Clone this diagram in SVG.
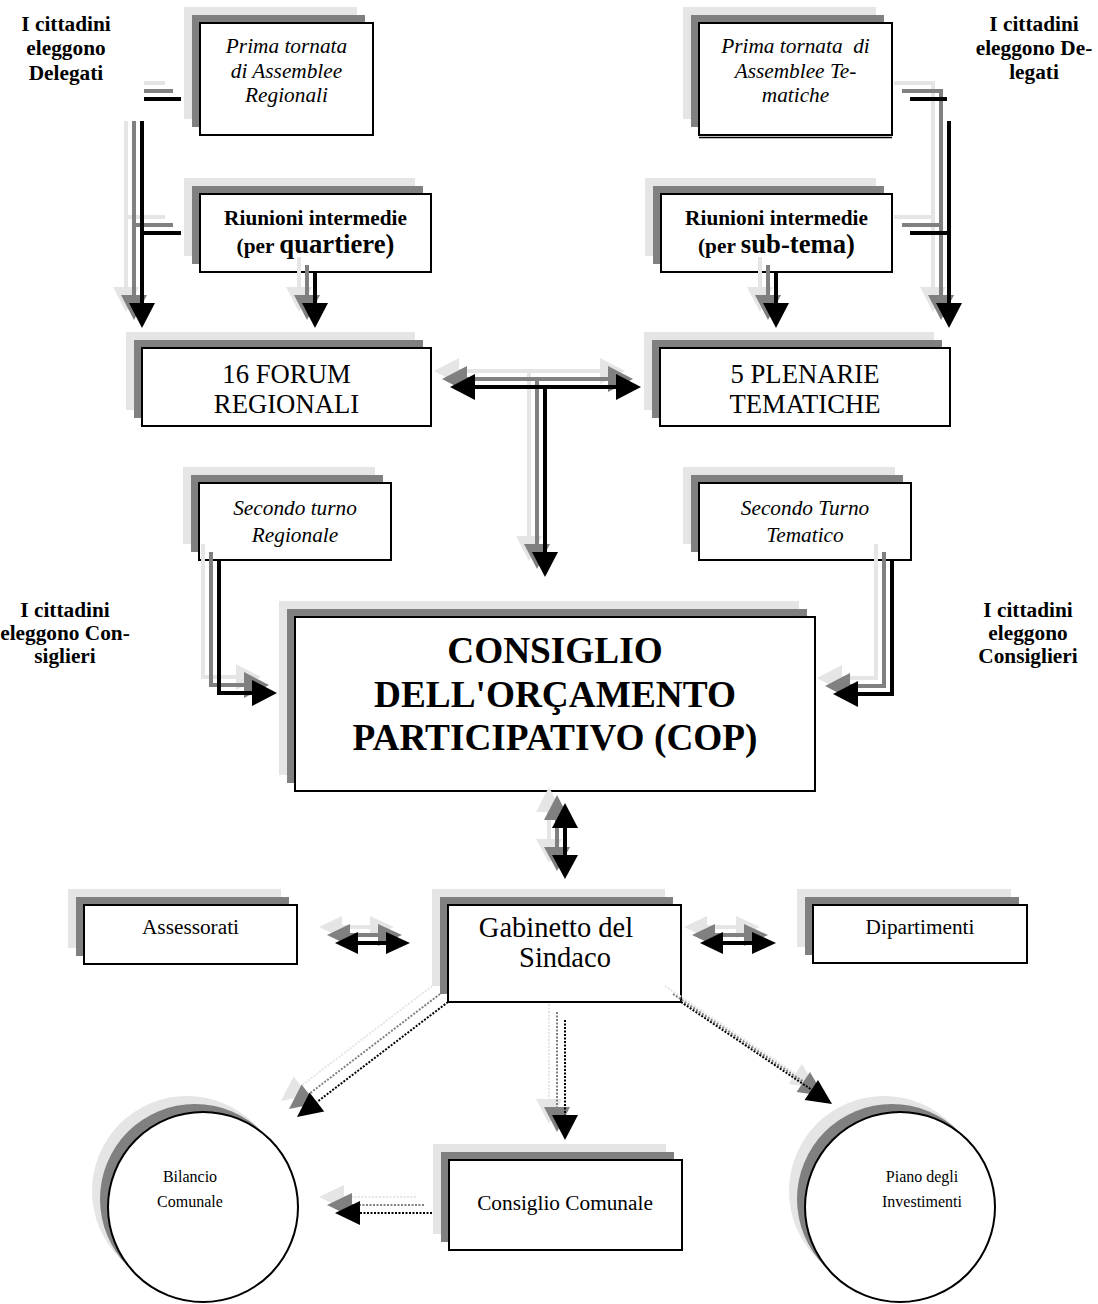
<svg xmlns="http://www.w3.org/2000/svg" xmlns:xlink="http://www.w3.org/1999/xlink" width="1098" height="1304" viewBox="0 0 1098 1304">
<style>
  .l{fill:#e5e5e5}
  .d{fill:#808080}
  .m{fill:#fff;stroke:#000;stroke-width:2}
  text{font-family:"Liberation Serif","Times New Roman",serif;fill:#000;text-anchor:middle}
  .b{font-weight:bold}
  .i{font-style:italic}
  .s21{font-size:21.3px}
  .s27{font-size:26.7px}
  .s16{font-size:16px}
  .cL{stroke:#e5e5e5;fill:#e5e5e5}
  .cD{stroke:#808080;fill:#808080}
  .cK{stroke:#000;fill:#000}
  .ln{fill:none;stroke-width:4}
  .dt{fill:none;stroke-width:2;stroke-dasharray:2 1.5}
  .hd{stroke:none}
</style>
<defs>
  <g id="a1"><path class="ln" d="M181,99 H142 V305 M181,233 H142"/><polygon class="hd" points="129,303 155,303 142,328"/></g>
  <g id="a2"><path class="ln" d="M315,273 V305"/><polygon class="hd" points="302,303 328,303 315,328"/></g>
  <g id="a3"><path class="ln" d="M910,99 H949 V305 M910,233 H949"/><polygon class="hd" points="936,303 962,303 949,328"/></g>
  <g id="a4"><path class="ln" d="M776,273 V305"/><polygon class="hd" points="763,303 789,303 776,328"/></g>
  <g id="a5"><path class="ln" d="M470,387 H620 M545,387 V555"/><polygon class="hd" points="450,387 475,374 475,400"/><polygon class="hd" points="641,387 616,374 616,400"/><polygon class="hd" points="532,552 558,552 545,577"/></g>
  <g id="a6"><path class="ln" d="M219,560 V693 H254"/><polygon class="hd" points="277,693 252,680 252,706"/></g>
  <g id="a7"><path class="ln" d="M892,560 V694 H858"/><polygon class="hd" points="833,694 858,681 858,707"/></g>
  <g id="a8"><path class="ln" d="M565,826 V857"/><polygon class="hd" points="565,803 552,828 578,828"/><polygon class="hd" points="565,879 552,855 578,855"/></g>
  <g id="a9"><path class="ln" d="M352,943 H390"/><polygon class="hd" points="335,943 358,932 358,954"/><polygon class="hd" points="410,943 386,932 386,954"/></g>
  <g id="a10"><path class="ln" d="M717,943 H760"/><polygon class="hd" points="700,943 723,932 723,954"/><polygon class="hd" points="776,943 752,932 752,954"/></g>
  <g id="d1"><path class="dt" d="M448,1002 L317,1102"/><polygon class="hd" points="297,1117 324.2,1111.4 309.6,1092.4"/></g>
  <g id="d2"><path class="dt" d="M565,1020 V1117"/><polygon class="hd" points="552,1115 578,1115 565,1140"/></g>
  <g id="d3"><path class="dt" d="M681,1002 L812,1090"/><polygon class="hd" points="832,1104 804.6,1099.9 818,1080.1"/></g>
  <g id="d4"><path class="dt" d="M432,1213 H358"/><polygon class="hd" points="335,1213 360,1201 360,1225"/></g>
</defs>

<g id="n-prima-regionali">
  <rect class="l" x="184" y="7" width="173" height="112"/>
  <rect class="d" x="192" y="15" width="173" height="112"/>
  <rect class="m" x="200" y="23" width="173" height="112"/>
  <text class="i s21" x="286.5" y="53">Prima tornata</text>
  <text class="i s21" x="286.5" y="78">di Assemblee</text>
  <text class="i s21" x="286.5" y="102">Regionali</text>
</g>
<g id="n-riunioni-quartiere">
  <rect class="l" x="184" y="178" width="231" height="78"/>
  <rect class="d" x="192" y="186" width="231" height="78"/>
  <rect class="m" x="200" y="194" width="231" height="78"/>
  <text class="b s21" x="315.5" y="225">Riunioni intermedie</text>
  <text class="b s21" x="315.5" y="253">(per <tspan class="s27">quartiere)</tspan></text>
</g>
<g id="n-prima-tematiche">
  <rect class="l" x="683" y="7" width="193" height="112"/>
  <rect class="d" x="691" y="15" width="193" height="112"/>
  <rect class="m" x="699" y="23" width="193" height="112"/>
  <line x1="699" y1="137.5" x2="892" y2="137.5" stroke="#000" stroke-width="1.5"/>
  <text class="i s21" x="795.5" y="53" xml:space="preserve">Prima tornata  di</text>
  <text class="i s21" x="795.5" y="78">Assemblee Te-</text>
  <text class="i s21" x="795.5" y="102">matiche</text>
</g>
<g id="n-riunioni-subtema">
  <rect class="l" x="645" y="178" width="231" height="78"/>
  <rect class="d" x="653" y="186" width="231" height="78"/>
  <rect class="m" x="661" y="194" width="231" height="78"/>
  <text class="b s21" x="776.5" y="225">Riunioni intermedie</text>
  <text class="b s21" x="776.5" y="253">(per <tspan class="s27">sub-tema)</tspan></text>
</g>
<g id="n-forum">
  <rect class="l" x="126" y="332" width="289" height="78"/>
  <rect class="d" x="134" y="340" width="289" height="78"/>
  <rect class="m" x="142" y="348" width="289" height="78"/>
  <text class="s27" x="286.5" y="383">16 FORUM</text>
  <text class="s27" x="286.5" y="413">REGIONALI</text>
</g>
<g id="n-plenarie">
  <rect class="l" x="644" y="332" width="290" height="78"/>
  <rect class="d" x="652" y="340" width="290" height="78"/>
  <rect class="m" x="660" y="348" width="290" height="78"/>
  <text class="s27" x="805" y="383">5 PLENARIE</text>
  <text class="s27" x="805" y="413">TEMATICHE</text>
</g>
<g id="n-secondo-regionale">
  <rect class="l" x="183" y="467" width="192" height="77"/>
  <rect class="d" x="191" y="475" width="192" height="77"/>
  <rect class="m" x="199" y="483" width="192" height="77"/>
  <text class="i s21" x="295" y="515">Secondo turno</text>
  <text class="i s21" x="295" y="542">Regionale</text>
</g>
<g id="n-secondo-tematico">
  <rect class="l" x="683" y="467" width="212" height="77"/>
  <rect class="d" x="691" y="475" width="212" height="77"/>
  <rect class="m" x="699" y="483" width="212" height="77"/>
  <text class="i s21" x="805" y="515">Secondo Turno</text>
  <text class="i s21" x="805" y="542">Tematico</text>
</g>
<g id="n-cop">
  <rect class="l" x="279" y="601" width="520" height="174"/>
  <rect class="d" x="287" y="609" width="520" height="174"/>
  <rect class="m" x="295" y="617" width="520" height="174"/>
  <text class="b" font-size="37.3" x="555" y="663">CONSIGLIO</text>
  <text class="b" font-size="37.3" x="555" y="707">DELL'ORÇAMENTO</text>
  <text class="b" font-size="37.3" x="555" y="750">PARTICIPATIVO (COP)</text>
</g>
<g id="n-assessorati">
  <rect class="l" x="68" y="889" width="213" height="59"/>
  <rect class="d" x="76" y="897" width="213" height="59"/>
  <rect class="m" x="84" y="905" width="213" height="59"/>
  <text class="s21" x="190.5" y="934">Assessorati</text>
</g>
<g id="n-gabinetto">
  <rect class="l" x="432" y="889" width="233" height="97"/>
  <rect class="d" x="440" y="897" width="233" height="97"/>
  <rect class="m" x="448" y="905" width="233" height="97"/>
  <text font-size="28.5" x="556" y="937">Gabinetto del</text>
  <text font-size="28.5" x="565" y="967">Sindaco</text>
</g>
<g id="n-dipartimenti">
  <rect class="l" x="797" y="889" width="214" height="58"/>
  <rect class="d" x="805" y="897" width="214" height="58"/>
  <rect class="m" x="813" y="905" width="214" height="58"/>
  <text class="s21" x="920" y="934">Dipartimenti</text>
</g>
<g id="n-consiglio-comunale">
  <rect class="l" x="433" y="1144" width="233" height="90"/>
  <rect class="d" x="441" y="1152" width="233" height="90"/>
  <rect class="m" x="449" y="1160" width="233" height="90"/>
  <text class="s21" x="565" y="1210">Consiglio Comunale</text>
</g>
<g id="n-bilancio">
  <circle class="l" cx="187" cy="1191" r="95"/>
  <circle class="d" cx="195" cy="1199" r="95"/>
  <circle class="m" cx="203" cy="1207" r="95"/>
  <text class="s16" x="190" y="1182">Bilancio</text>
  <text class="s16" x="190" y="1207">Comunale</text>
</g>
<g id="n-piano">
  <circle class="l" cx="884" cy="1191" r="95"/>
  <circle class="d" cx="892" cy="1199" r="95"/>
  <circle class="m" cx="900" cy="1207" r="95"/>
  <text class="s16" x="922" y="1182">Piano degli</text>
  <text class="s16" x="922" y="1207">Investimenti</text>
</g>

<g id="connectors">
  <use xlink:href="#a1" class="cL" transform="translate(-16,-16)"/><use xlink:href="#a1" class="cD" transform="translate(-8,-8)"/><use xlink:href="#a1" class="cK"/>
  <use xlink:href="#a2" class="cL" transform="translate(-16,-16)"/><use xlink:href="#a2" class="cD" transform="translate(-8,-8)"/><use xlink:href="#a2" class="cK"/>
  <use xlink:href="#a3" class="cL" transform="translate(-16,-16)"/><use xlink:href="#a3" class="cD" transform="translate(-8,-8)"/><use xlink:href="#a3" class="cK"/>
  <use xlink:href="#a4" class="cL" transform="translate(-16,-16)"/><use xlink:href="#a4" class="cD" transform="translate(-8,-8)"/><use xlink:href="#a4" class="cK"/>
  <use xlink:href="#a5" class="cL" transform="translate(-16,-16)"/><use xlink:href="#a5" class="cD" transform="translate(-8,-8)"/><use xlink:href="#a5" class="cK"/>
  <use xlink:href="#a6" class="cL" transform="translate(-16,-16)"/><use xlink:href="#a6" class="cD" transform="translate(-8,-8)"/><use xlink:href="#a6" class="cK"/>
  <use xlink:href="#a7" class="cL" transform="translate(-16,-16)"/><use xlink:href="#a7" class="cD" transform="translate(-8,-8)"/><use xlink:href="#a7" class="cK"/>
  <use xlink:href="#a8" class="cL" transform="translate(-16,-16)"/><use xlink:href="#a8" class="cD" transform="translate(-8,-8)"/><use xlink:href="#a8" class="cK"/>
  <use xlink:href="#a9" class="cL" transform="translate(-16,-16)"/><use xlink:href="#a9" class="cD" transform="translate(-8,-8)"/><use xlink:href="#a9" class="cK"/>
  <use xlink:href="#a10" class="cL" transform="translate(-16,-16)"/><use xlink:href="#a10" class="cD" transform="translate(-8,-8)"/><use xlink:href="#a10" class="cK"/>
  <use xlink:href="#d1" class="cL" transform="translate(-16,-16)"/><use xlink:href="#d1" class="cD" transform="translate(-8,-8)"/><use xlink:href="#d1" class="cK"/>
  <use xlink:href="#d2" class="cL" transform="translate(-16,-16)"/><use xlink:href="#d2" class="cD" transform="translate(-8,-8)"/><use xlink:href="#d2" class="cK"/>
  <use xlink:href="#d3" class="cL" transform="translate(-16,-16)"/><use xlink:href="#d3" class="cD" transform="translate(-8,-8)"/><use xlink:href="#d3" class="cK"/>
  <use xlink:href="#d4" class="cL" transform="translate(-16,-16)"/><use xlink:href="#d4" class="cD" transform="translate(-8,-8)"/><use xlink:href="#d4" class="cK"/>
</g>

<g id="label-top-left">
  <rect x="0" y="0" width="144" height="121" fill="#fff"/>
  <text class="b s21" x="66" y="31">I cittadini</text>
  <text class="b s21" x="66" y="55">eleggono</text>
  <text class="b s21" x="66" y="80">Delegati</text>
</g>
<g id="label-top-right">
  <rect x="947" y="0" width="151" height="121" fill="#fff"/>
  <text class="b s21" x="1034" y="31">I cittadini</text>
  <text class="b s21" x="1034" y="55">eleggono De-</text>
  <text class="b s21" x="1034" y="79">legati</text>
</g>
<g id="label-mid-left">
  <text class="b s21" x="65" y="617">I cittadini</text>
  <text class="b s21" x="65" y="640">eleggono Con-</text>
  <text class="b s21" x="65" y="663">siglieri</text>
</g>
<g id="label-mid-right">
  <text class="b s21" x="1028" y="617">I cittadini</text>
  <text class="b s21" x="1028" y="640">eleggono</text>
  <text class="b s21" x="1028" y="663">Consiglieri</text>
</g>
</svg>
